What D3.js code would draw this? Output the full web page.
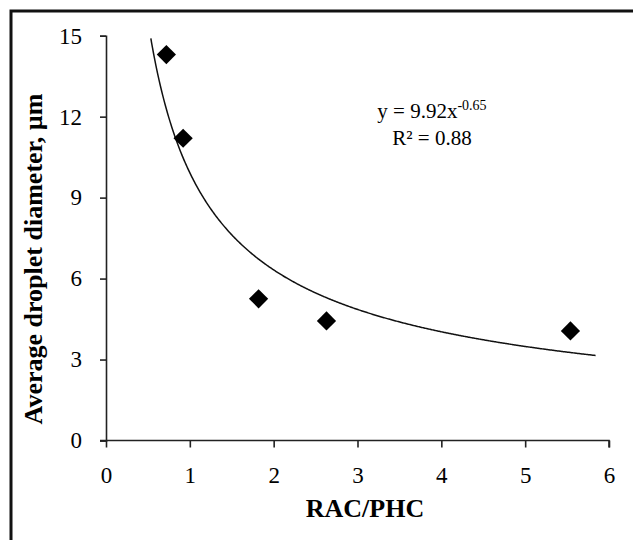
<!DOCTYPE html>
<html>
<head>
<meta charset="utf-8">
<script src="https://cdn.jsdelivr.net/npm/d3@7"></script>
<style>
  body { margin: 0; background: #fff; }
  text { font-family: "Liberation Serif", "Times New Roman", serif; fill: #000; }
</style>
</head>
<body>
<svg id="chart" width="633" height="540"></svg>
<script>
//////////////// DATA ////////////////

// RAC/PHC ratio vs average droplet diameter (um)
var ratioValues = [0.72, 0.92, 1.82, 2.63, 5.54];
var diameterValues = [14.3, 11.2, 5.25, 4.43, 4.06];

// power trendline y = a * x^b, drawn over this x range
var trendCoef = [9.92, -0.65];
var trendRange = [0.535, 5.84];

var xTicks = [0, 1, 2, 3, 4, 5, 6];
var yTicks = [0, 3, 6, 9, 12, 15];

//////////////// CHART ////////////////

var serif = '"Liberation Serif", "Times New Roman", serif';
var svg = d3.select("#chart");

// frame (only top and left edges show in the picture)
svg.append("path")
    .attr("d", "M11,633 L11,11 L640,11")
    .attr("fill", "none")
    .attr("stroke", "#111")
    .attr("stroke-width", 3);

var xScale = d3.scaleLinear().domain([0, 6]).range([106, 609]);
var yScale = d3.scaleLinear().domain([0, 15]).range([440.5, 35.7]);

// axes
var xAxis = d3.axisBottom(xScale).tickValues(xTicks).tickSize(7).tickPadding(19)
    .tickFormat(d3.format("d"));
var yAxis = d3.axisLeft(yScale).tickValues(yTicks).tickSize(6).tickPadding(18)
    .tickFormat(d3.format("d"));

var gx = svg.append("g")
    .attr("transform", "translate(0," + yScale(0) + ")")
    .call(xAxis);
var gy = svg.append("g")
    .attr("transform", "translate(" + xScale(0) + ",0)")
    .call(yAxis);

[gx, gy].forEach(function(g) {
    g.attr("font-family", null).attr("font-size", null);
    g.select(".domain").attr("stroke", "#222").attr("stroke-width", 1.6);
    g.selectAll(".tick line").attr("stroke", "#222").attr("stroke-width", 1.6);
    g.selectAll(".tick text")
        .style("font-family", serif)
        .style("font-size", "23px")
        .attr("fill", "#000");
});
// x axis line sticks out a bit to the left like the original
gx.select(".domain").attr("d", "M" + (xScale(0) - 6) + ",0H" + xScale(6) + "V7");

// trendline
var trendX = d3.range(trendRange[0], trendRange[1], 0.01).concat([trendRange[1]]);
var line = d3.line()
    .x(function(d) { return xScale(d); })
    .y(function(d) { return yScale(trendCoef[0] * Math.pow(d, trendCoef[1])); });

svg.append("path")
    .datum(trendX)
    .attr("d", line)
    .attr("fill", "none")
    .attr("stroke", "#111")
    .attr("stroke-width", 1.5);

// diamond markers
var diamond = d3.symbol().type(d3.symbolSquare).size(185);
svg.selectAll(".pt")
    .data(ratioValues)
    .enter()
    .append("path")
    .attr("class", "pt")
    .attr("d", diamond)
    .attr("transform", function(d, i) {
        return "translate(" + xScale(d) + "," + yScale(diameterValues[i]) + ") rotate(45)";
    })
    .attr("fill", "#000");

// equation text
var eq = svg.append("text")
    .attr("x", 432)
    .attr("y", 118)
    .attr("text-anchor", "middle")
    .style("font-size", "21px");
eq.append("tspan").text("y = 9.92x");
eq.append("tspan").style("font-size", "14px").attr("dy", -8).text("-0.65");

svg.append("text")
    .attr("x", 432)
    .attr("y", 145)
    .attr("text-anchor", "middle")
    .style("font-size", "21px")
    .text("R² = 0.88");

// axis titles
svg.append("text")
    .attr("x", 365)
    .attr("y", 517)
    .attr("text-anchor", "middle")
    .style("font-size", "26px")
    .style("font-weight", "bold")
    .text("RAC/PHC");

svg.append("text")
    .attr("transform", "translate(42,259) rotate(-90)")
    .attr("text-anchor", "middle")
    .style("font-size", "26px")
    .style("font-weight", "bold")
    .text("Average droplet diameter, µm");
</script>
</body>
</html>
